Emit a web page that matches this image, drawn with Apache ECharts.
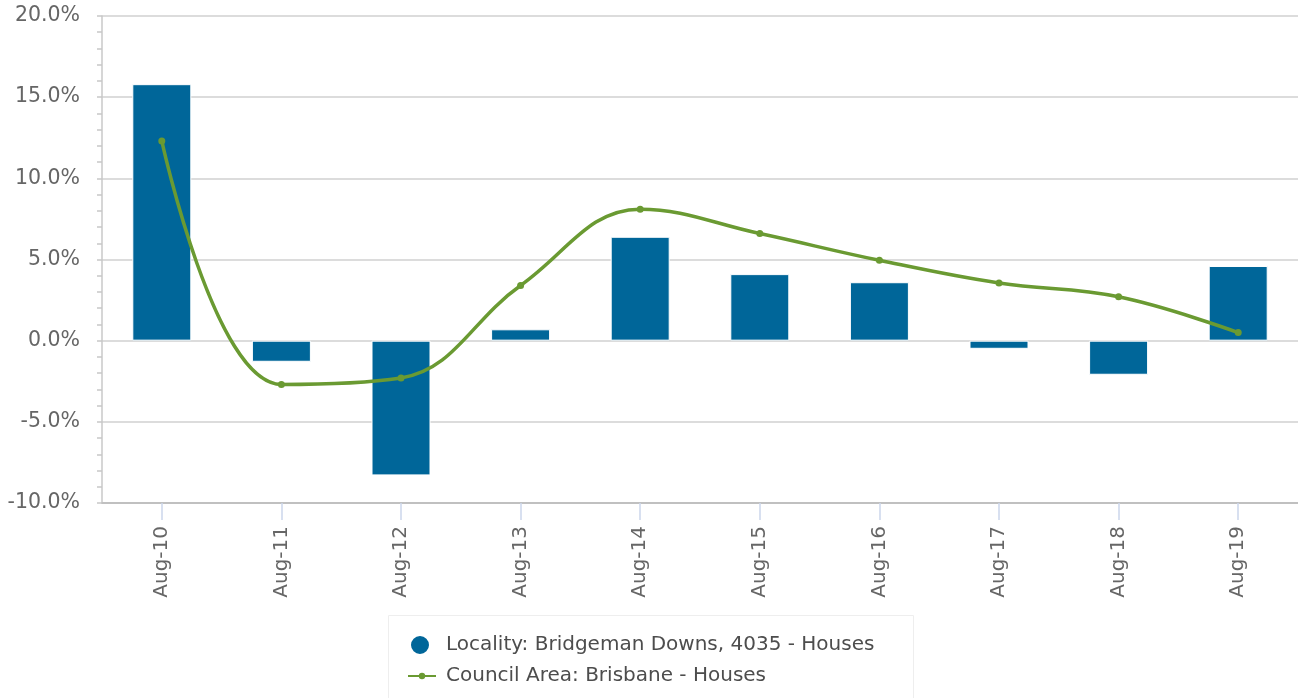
<!DOCTYPE html>
<html>
<head>
<meta charset="utf-8">
<script src="https://cdn.jsdelivr.net/npm/echarts@6/dist/echarts.min.js"></script>
<style>
html,body{margin:0;padding:0;background:#fff;}
#chart{width:1298px;height:698px;}
</style>
</head>
<body>
<div id="chart"></div>
<script>
const categories = ['Aug-10','Aug-11','Aug-12','Aug-13','Aug-14','Aug-15','Aug-16','Aug-17','Aug-18','Aug-19'];
const localityName = 'Locality: Bridgeman Downs, 4035 - Houses';
const councilName = 'Council Area: Brisbane - Houses';
const localityValues = [15.8, -1.3, -8.3, 0.7, 6.4, 4.1, 3.6, -0.5, -2.1, 4.6];
const councilValues = [12.3, -2.7, -2.3, 3.4, 8.1, 6.6, 4.95, 3.55, 2.7, 0.5];
const yMin = -10, yMax = 20, yStep = 5;

const FONT = 'DejaVu Sans';
const chart = echarts.init(document.getElementById('chart'), null, {renderer:'canvas'});
chart.setOption({
  animation: false,
  backgroundColor: '#ffffff',
  grid: { left: 102, right: 0, top: 16, bottom: 195, containLabel: false },
  xAxis: {
    type: 'category',
    data: categories,
    boundaryGap: true,
    axisLine: { onZero: false, lineStyle: { color: '#c0c0c0', width: 2 } },
    axisTick: { show: true, alignWithLabel: true, length: 17, lineStyle: { color: '#ccd6eb', width: 1.5 } },
    axisLabel: { rotate: 90, margin: 23, color: '#666666', fontSize: 20, fontFamily: FONT },
    splitLine: { show: false }
  },
  yAxis: {
    type: 'value',
    min: yMin, max: yMax, interval: yStep,
    axisLine: { show: true, lineStyle: { color: '#c8c8c8', width: 1.5 } },
    axisTick: { show: true, length: 5, lineStyle: { color: '#c8c8c8', width: 1.5 } },
    minorTick: { show: true, splitNumber: 5, length: 5, lineStyle: { color: '#c8c8c8', width: 1.5 } },
    axisLabel: { margin: 22, color: '#666666', fontSize: 20.5, fontFamily: FONT,
      formatter: v => v.toFixed(1) + '%' },
    splitLine: { show: true, lineStyle: { color: '#d0d0d0', width: 1.5 } }
  },
  legend: [
    { data: [{ name: localityName, icon: 'circle' }], left: 409, top: 634, padding: 0,
      itemWidth: 28, itemHeight: 20,
      textStyle: { color: '#4d4d4d', fontSize: 20, fontFamily: FONT, padding: [0,0,0,7] } },
    { data: [{ name: councilName }], left: 407, top: 666, padding: 0,
      itemWidth: 28, itemHeight: 8,
      textStyle: { color: '#4d4d4d', fontSize: 20, fontFamily: FONT, padding: [0,0,0,5] } }
  ],
  graphic: [{
    type: 'rect', silent: true,
    shape: { x: 388.5, y: 615.5, width: 525, height: 100 },
    style: { fill: 'none', stroke: '#eeeeee', lineWidth: 1 }
  }],
  series: [
    {
      name: localityName, type: 'bar', data: localityValues, barWidth: 59,
      itemStyle: { color: '#006699', borderColor: '#ffffff', borderWidth: 1 },
      z: 2
    },
    {
      name: councilName, type: 'line', data: councilValues, smooth: 0.4,
      symbol: 'circle', symbolSize: 7, showSymbol: true,
      lineStyle: { color: '#6a9a32', width: 3.5 },
      itemStyle: { color: '#6a9a32' },
      z: 3
    }
  ]
});
</script>
</body>
</html>
